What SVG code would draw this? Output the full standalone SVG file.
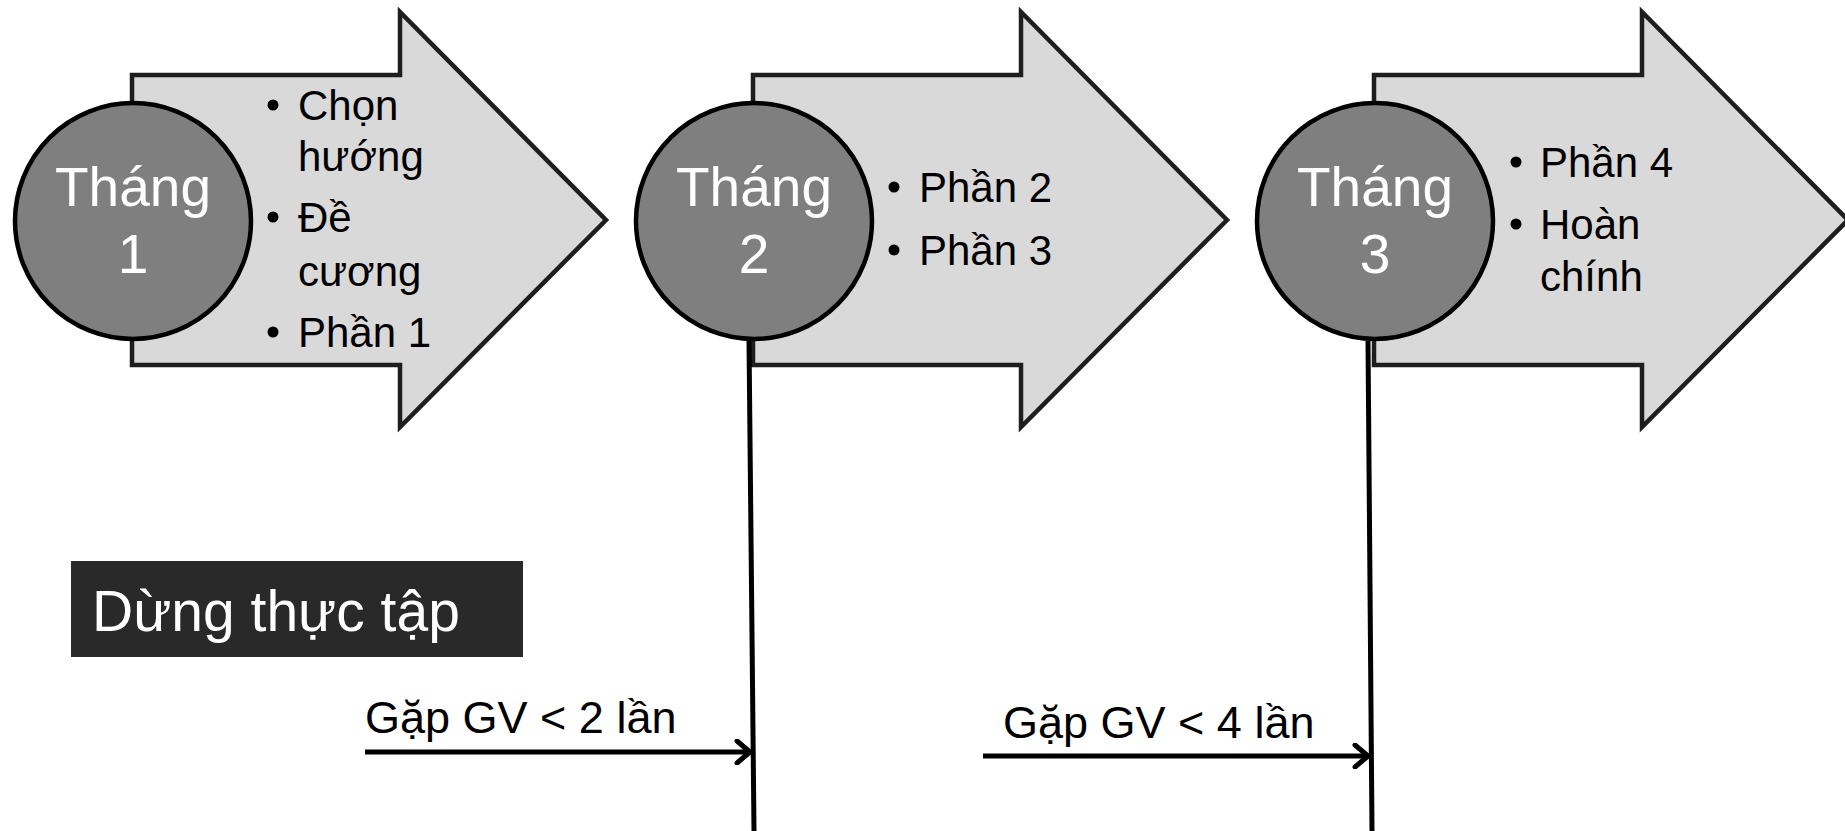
<svg xmlns="http://www.w3.org/2000/svg" width="1845" height="831" viewBox="0 0 1845 831">
<style>
.arrow{fill:#d9d9d9;stroke:#1e1e1e;stroke-width:4.5;stroke-linejoin:miter}
.circ{fill:#7f7f7f;stroke:#000;stroke-width:4.5}
.ct{font-family:"Liberation Sans",Arial,sans-serif;font-size:55px;fill:#fff;text-anchor:middle}
.bt{font-family:"Liberation Sans",Arial,sans-serif;font-size:42px;fill:#000}
.lbl{font-family:"Liberation Sans",Arial,sans-serif;font-size:45px;fill:#000}
.stop{font-family:"Liberation Sans",Arial,sans-serif;font-size:57px;fill:#fff}
.vline{stroke:#000;stroke-width:5;fill:none}
.harrow{stroke:#000;stroke-width:5;fill:none;marker-end:url(#chev)}
</style>
<defs>
<marker id="chev" markerUnits="userSpaceOnUse" viewBox="0 0 18 26" refX="16" refY="13" markerWidth="18" markerHeight="26" orient="auto">
<path d="M3,2 L16,13 L3,24" fill="none" stroke="#000" stroke-width="5" stroke-linecap="round" stroke-linejoin="round"/>
</marker>
</defs>

<g id="month1">
<polygon class="arrow" points="132,75 400,75 400,12 606,220 400,427 400,365 132,365"/>
<circle class="circ" cx="133" cy="221" r="118"/>
<text class="ct" x="133" y="206">Tháng</text>
<text class="ct" x="133" y="273">1</text>
<circle cx="273" cy="105" r="5.5"/>
<text class="bt" x="298" y="120">Chọn</text>
<text class="bt" x="298" y="171">hướng</text>
<circle cx="273" cy="217" r="5.5"/>
<text class="bt" x="298" y="232">Đề</text>
<text class="bt" x="298" y="286">cương</text>
<circle cx="273" cy="332" r="5.5"/>
<text class="bt" x="298" y="347">Phần 1</text>
</g>

<g id="month2">
<polygon class="arrow" points="753,75 1021,75 1021,12 1227,220 1021,427 1021,365 753,365"/>
<circle class="circ" cx="754" cy="221" r="118"/>
<text class="ct" x="754" y="206">Tháng</text>
<text class="ct" x="754" y="273">2</text>
<circle cx="894" cy="187" r="5.5"/>
<text class="bt" x="919" y="202">Phần 2</text>
<circle cx="894" cy="250" r="5.5"/>
<text class="bt" x="919" y="265">Phần 3</text>
</g>

<g id="month3">
<polygon class="arrow" points="1374,75 1642,75 1642,12 1848,220 1642,427 1642,365 1374,365"/>
<circle class="circ" cx="1375" cy="221" r="118"/>
<text class="ct" x="1375" y="206">Tháng</text>
<text class="ct" x="1375" y="273">3</text>
<circle cx="1516" cy="162" r="5.5"/>
<text class="bt" x="1540" y="177">Phần 4</text>
<circle cx="1516" cy="224" r="5.5"/>
<text class="bt" x="1540" y="239">Hoàn</text>
<text class="bt" x="1540" y="291">chính</text>
</g>

<g id="stop">
<rect x="71" y="561" width="452" height="96" fill="#292929"/>
<text class="stop" x="92" y="631">Dừng thực tập</text>
</g>

<g id="connectors">
<line class="vline" x1="749" y1="341" x2="754" y2="831"/>
<line class="vline" x1="1368" y1="341" x2="1372" y2="831"/>
<line class="harrow" x1="365" y1="752" x2="750" y2="752"/>
<line class="harrow" x1="983" y1="756" x2="1368" y2="756"/>
<text class="lbl" x="365" y="733">Gặp GV &lt; 2 lần</text>
<text class="lbl" x="1003" y="738">Gặp GV &lt; 4 lần</text>
</g>
</svg>
